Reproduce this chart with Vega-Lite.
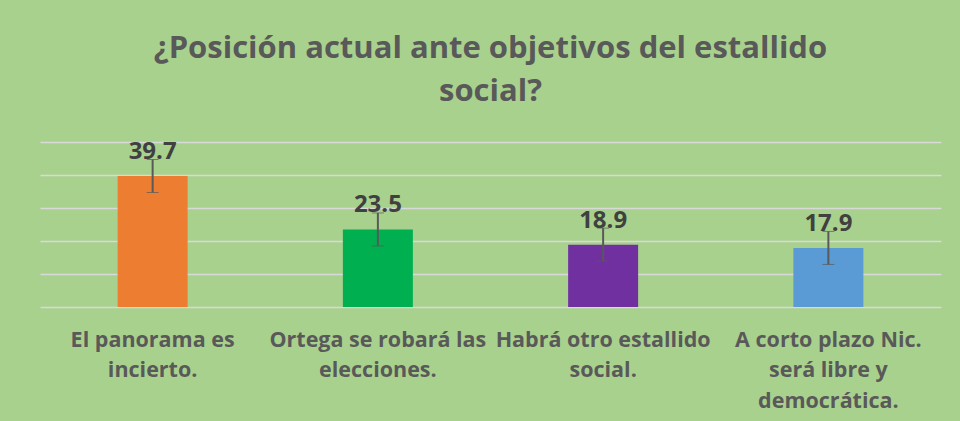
{
  "$schema": "https://vega.github.io/schema/vega-lite/v6.json",
  "width": 901,
  "height": 165,
  "autosize": {"type": "none"},
  "padding": {"left": 40, "top": 142, "right": 19, "bottom": 114},
  "background": "#A9D18E",
  "config": {
    "view": {"stroke": null},
    "font": "Open Sans"
  },
  "title": {
    "text": ["¿Posición actual ante objetivos del estallido", "social?"],
    "fontSize": 31,
    "fontWeight": "bold",
    "color": "#595959",
    "anchor": "middle",
    "lineHeight": 43,
    "offset": 32
  },
  "data": {
    "values": [
      {"cat": "El panorama es|incierto.", "value": 39.7, "err": 5},
      {"cat": "Ortega se robará las|elecciones.", "value": 23.5, "err": 5},
      {"cat": "Habrá otro estallido|social.", "value": 18.9, "err": 5},
      {"cat": "A corto plazo Nic.|será libre y|democrática.", "value": 17.9, "err": 5}
    ]
  },
  "encoding": {
    "x": {
      "field": "cat",
      "type": "nominal",
      "sort": ["El panorama es|incierto.", "Ortega se robará las|elecciones.", "Habrá otro estallido|social.", "A corto plazo Nic.|será libre y|democrática."],
      "scale": {"paddingInner": 0, "paddingOuter": 0},
      "axis": {
        "title": null,
        "labelAngle": 0,
        "labelExpr": "split(datum.label, '|')",
        "labelFontSize": 21.5,
        "labelFontWeight": "bold",
        "labelColor": "#595959",
        "labelLineHeight": 30.5,
        "labelPadding": 22,
        "labelLimit": 300,
        "domain": false,
        "ticks": false
      }
    },
    "y": {
      "field": "value",
      "type": "quantitative",
      "scale": {"domain": [0, 50], "nice": false},
      "axis": {
        "title": null,
        "values": [0, 10, 20, 30, 40, 50],
        "labels": false,
        "ticks": false,
        "domain": false,
        "grid": true,
        "gridColor": "#D9D9D9",
        "gridWidth": 1.5
      }
    }
  },
  "layer": [
    {
      "mark": {"type": "bar", "width": 70},
      "encoding": {
        "color": {
          "field": "cat",
          "type": "nominal",
          "sort": ["El panorama es|incierto.", "Ortega se robará las|elecciones.", "Habrá otro estallido|social.", "A corto plazo Nic.|será libre y|democrática."],
          "scale": {"range": ["#ED7D31", "#00B050", "#7030A0", "#5B9BD5"]},
          "legend": null
        }
      }
    },
    {
      "mark": {"type": "errorbar", "ticks": {"size": 12, "color": "#595959", "strokeWidth": 2}, "rule": {"color": "#595959", "strokeWidth": 2}},
      "encoding": {
        "yError": {"field": "err"}
      }
    },
    {
      "mark": {"type": "text", "dy": -24, "fontSize": 24, "fontWeight": "bold", "color": "#404040"},
      "encoding": {
        "text": {"field": "value", "type": "quantitative", "format": ".1f"}
      }
    }
  ]
}
